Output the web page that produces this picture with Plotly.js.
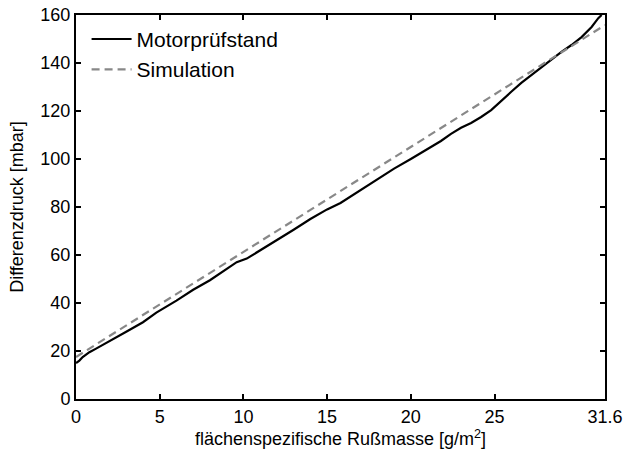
<!DOCTYPE html>
<html>
<head>
<meta charset="utf-8">
<script src="https://cdn.plot.ly/plotly-3.0.1.min.js"></script>
<style>html,body{margin:0;padding:0;background:#fff;}#chart{width:629px;height:457px;}</style>
</head>
<body>
<div id="chart"></div>
<script>
const motorX = [0, 0.2, 0.4, 0.8, 1.2, 2, 3, 4, 4.8, 6, 7, 8, 9, 9.6, 10.2, 10.8, 12, 13, 14, 15, 15.8, 17, 18, 19, 20, 20.6, 21.2, 21.8, 22.4, 23, 23.6, 24.2, 24.8, 25.4, 26, 26.6, 27.2, 27.8, 28.4, 29, 29.6, 30.2, 30.8, 31.2, 31.4];
const motorY = [15, 16, 17.5, 19.5, 21, 24, 28, 32, 36, 41, 45.5, 49.5, 54, 57, 58.5, 61, 66, 70.5, 75, 79, 81.7, 87, 91.5, 96, 100, 102.5, 105, 107.5, 110.5, 113, 115, 117.5, 120.4, 124, 128, 131.7, 135, 138.3, 141.5, 144.6, 147.5, 150.8, 155, 158.7, 160];
const simX = [0, 5, 10, 15, 20, 25, 31.6];
const simY = [17.5, 39.4, 61.3, 83.2, 105.1, 127.0, 155.8];
const xTickVals = [0, 5, 10, 15, 20, 25, 31.6];
const xTickText = ['0', '5', '10', '15', '20', '25', '31.6'];
const yTickVals = [0, 20, 40, 60, 80, 100, 120, 140, 160];

const FONT = 'Liberation Sans, Arial, sans-serif';

const traces = [
  {x: motorX, y: motorY, mode: 'lines', name: 'Motorprüfstand',
   line: {color: '#000000', width: 2.2}},
  {x: simX, y: simY, mode: 'lines', name: 'Simulation',
   line: {color: '#888888', width: 2.2, dash: '8px,5px'}}
];

const axisCommon = {
  showgrid: false, zeroline: false, showline: true, mirror: 'ticks',
  linecolor: '#000', linewidth: 2, ticks: 'inside', ticklen: 5, tickwidth: 2,
  tickcolor: '#000', tickfont: {family: FONT, size: 18, color: '#000'}
};

const layout = {
  width: 629, height: 457,
  margin: {l: 76, r: 24, t: 15, b: 58},
  paper_bgcolor: '#fff', plot_bgcolor: '#fff',
  showlegend: true,
  legend: {x: 0.02, y: 0.99, xanchor: 'left', yanchor: 'top', bgcolor: 'rgba(0,0,0,0)',
           font: {family: FONT, size: 21, color: '#000'},
           tracegroupgap: 0, itemwidth: 40},
  xaxis: Object.assign({}, axisCommon, {
    range: [0, 31.6], tickvals: xTickVals, ticktext: xTickText,
    title: {text: 'flächenspezifische Rußmasse [g/m<sup>2</sup>]', standoff: 4,
            font: {family: FONT, size: 18, color: '#000'}}
  }),
  yaxis: Object.assign({}, axisCommon, {
    range: [0, 160], tickvals: yTickVals,
    title: {text: 'Differenzdruck [mbar]', standoff: 12,
            font: {family: FONT, size: 18, color: '#000'}}
  })
};

Plotly.newPlot('chart', traces, layout, {staticPlot: true, displayModeBar: false});
</script>
</body>
</html>
